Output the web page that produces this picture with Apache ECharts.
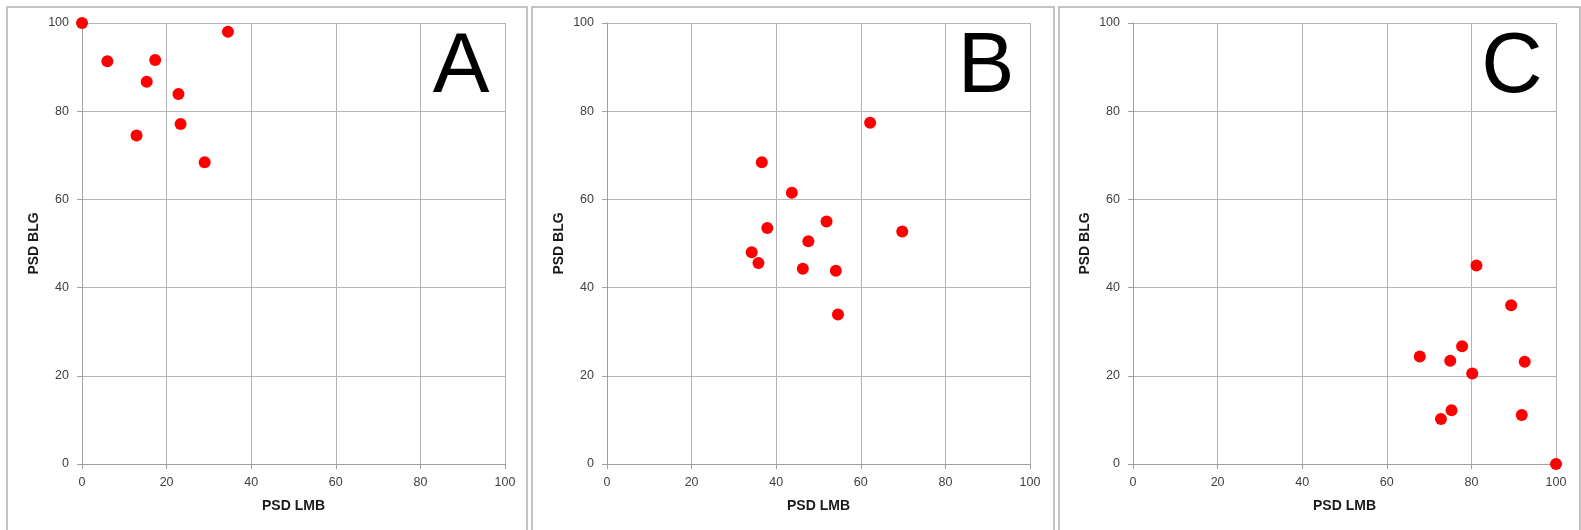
<!DOCTYPE html>
<html>
<head>
<meta charset="utf-8">
<script src="https://cdn.jsdelivr.net/npm/echarts@6/dist/echarts.min.js"></script>
<style>
  html, body { margin: 0; padding: 0; background: #fff; }
  #chart { width: 1581px; height: 530px; }
</style>
</head>
<body>
<div id="chart"></div>
<script>
// values (PSD LMB on x, PSD BLG on y)
const panelLabels = ['A', 'B', 'C']
const axisTicks = [0, 20, 40, 60, 80, 100]

const lmbA = [0, 6.0, 17.3, 15.3, 22.8, 12.9, 23.3, 29.0, 34.5]
const blgA = [100, 91.3, 91.6, 86.7, 83.9, 74.5, 77.1, 68.4, 98.0]

const lmbB = [62.2, 36.6, 43.7, 51.9, 69.8, 37.9, 47.6, 34.2, 35.8, 46.3, 54.1, 54.6]
const blgB = [77.4, 68.4, 61.5, 55.0, 52.7, 53.5, 50.5, 48.0, 45.6, 44.3, 43.8, 33.9]

const lmbC = [81.2, 89.4, 77.8, 67.8, 75.0, 92.6, 80.2, 75.3, 72.8, 91.9, 100]
const blgC = [45.0, 36.0, 26.7, 24.4, 23.4, 23.2, 20.5, 12.2, 10.2, 11.1, 0]

const panels = [[lmbA, blgA], [lmbB, blgB], [lmbC, blgC]]

const chart = echarts.init(document.getElementById('chart'))

const gridLeft = [82, 607, 1133]
const boxes = [[7, 520], [532, 522], [1059, 521]]
const font = '"Liberation Sans", Arial, sans-serif'

const axisCommon = {
  type: 'value', min: axisTicks[0], max: axisTicks[axisTicks.length - 1], interval: 20,
  axisLine: { show: true, lineStyle: { color: '#a0a0a0', width: 1 } },
  axisTick: { show: true, inside: false, length: 5, lineStyle: { color: '#a0a0a0' } },
  splitLine: { show: true, lineStyle: { color: '#b4b4b4', width: 1 } },
  nameLocation: 'middle',
  nameTextStyle: { color: '#1a1a1a', fontWeight: 'bold', fontSize: 14, fontFamily: font }
}

const option = {
  backgroundColor: '#fff',
  animation: false,
  grid: gridLeft.map(l => ({ left: l, width: 423, top: 23, height: 441 })),
  xAxis: gridLeft.map((l, i) => ({
    ...axisCommon, gridIndex: i, name: 'PSD LMB', nameGap: 35,
    axisLabel: { color: '#404040', fontSize: 12.5, fontFamily: font, margin: 12 }
  })),
  yAxis: gridLeft.map((l, i) => ({
    ...axisCommon, gridIndex: i, name: 'PSD BLG', nameGap: 41,
    axisLabel: { color: '#404040', fontSize: 12.5, fontFamily: font, margin: 13 }
  })),
  series: panels.map(([xs, ys], i) => ({
    type: 'scatter', xAxisIndex: i, yAxisIndex: i, clip: false,
    symbolSize: 12, itemStyle: { color: '#ff0000', opacity: 1 },
    data: xs.map((x, k) => [x, ys[k]])
  })),
  graphic: [
    ...boxes.map(([x, w]) => ({
      type: 'rect', shape: { x: x, y: 7, width: w, height: 540 },
      style: { fill: 'none', stroke: '#b0b0b0', lineWidth: 1.5 }, silent: true, z: -1
    })),
    ...panelLabels.map((t, i) => ({
      type: 'text', x: gridLeft[i] + 423 - 44, y: 68.5,
      style: { text: t, font: '85px ' + font, fill: '#000', align: 'center', verticalAlign: 'middle' },
      silent: true, z: 10
    }))
  ]
}

chart.setOption(option)
window.addEventListener('resize', () => chart.resize())
</script>
</body>
</html>
